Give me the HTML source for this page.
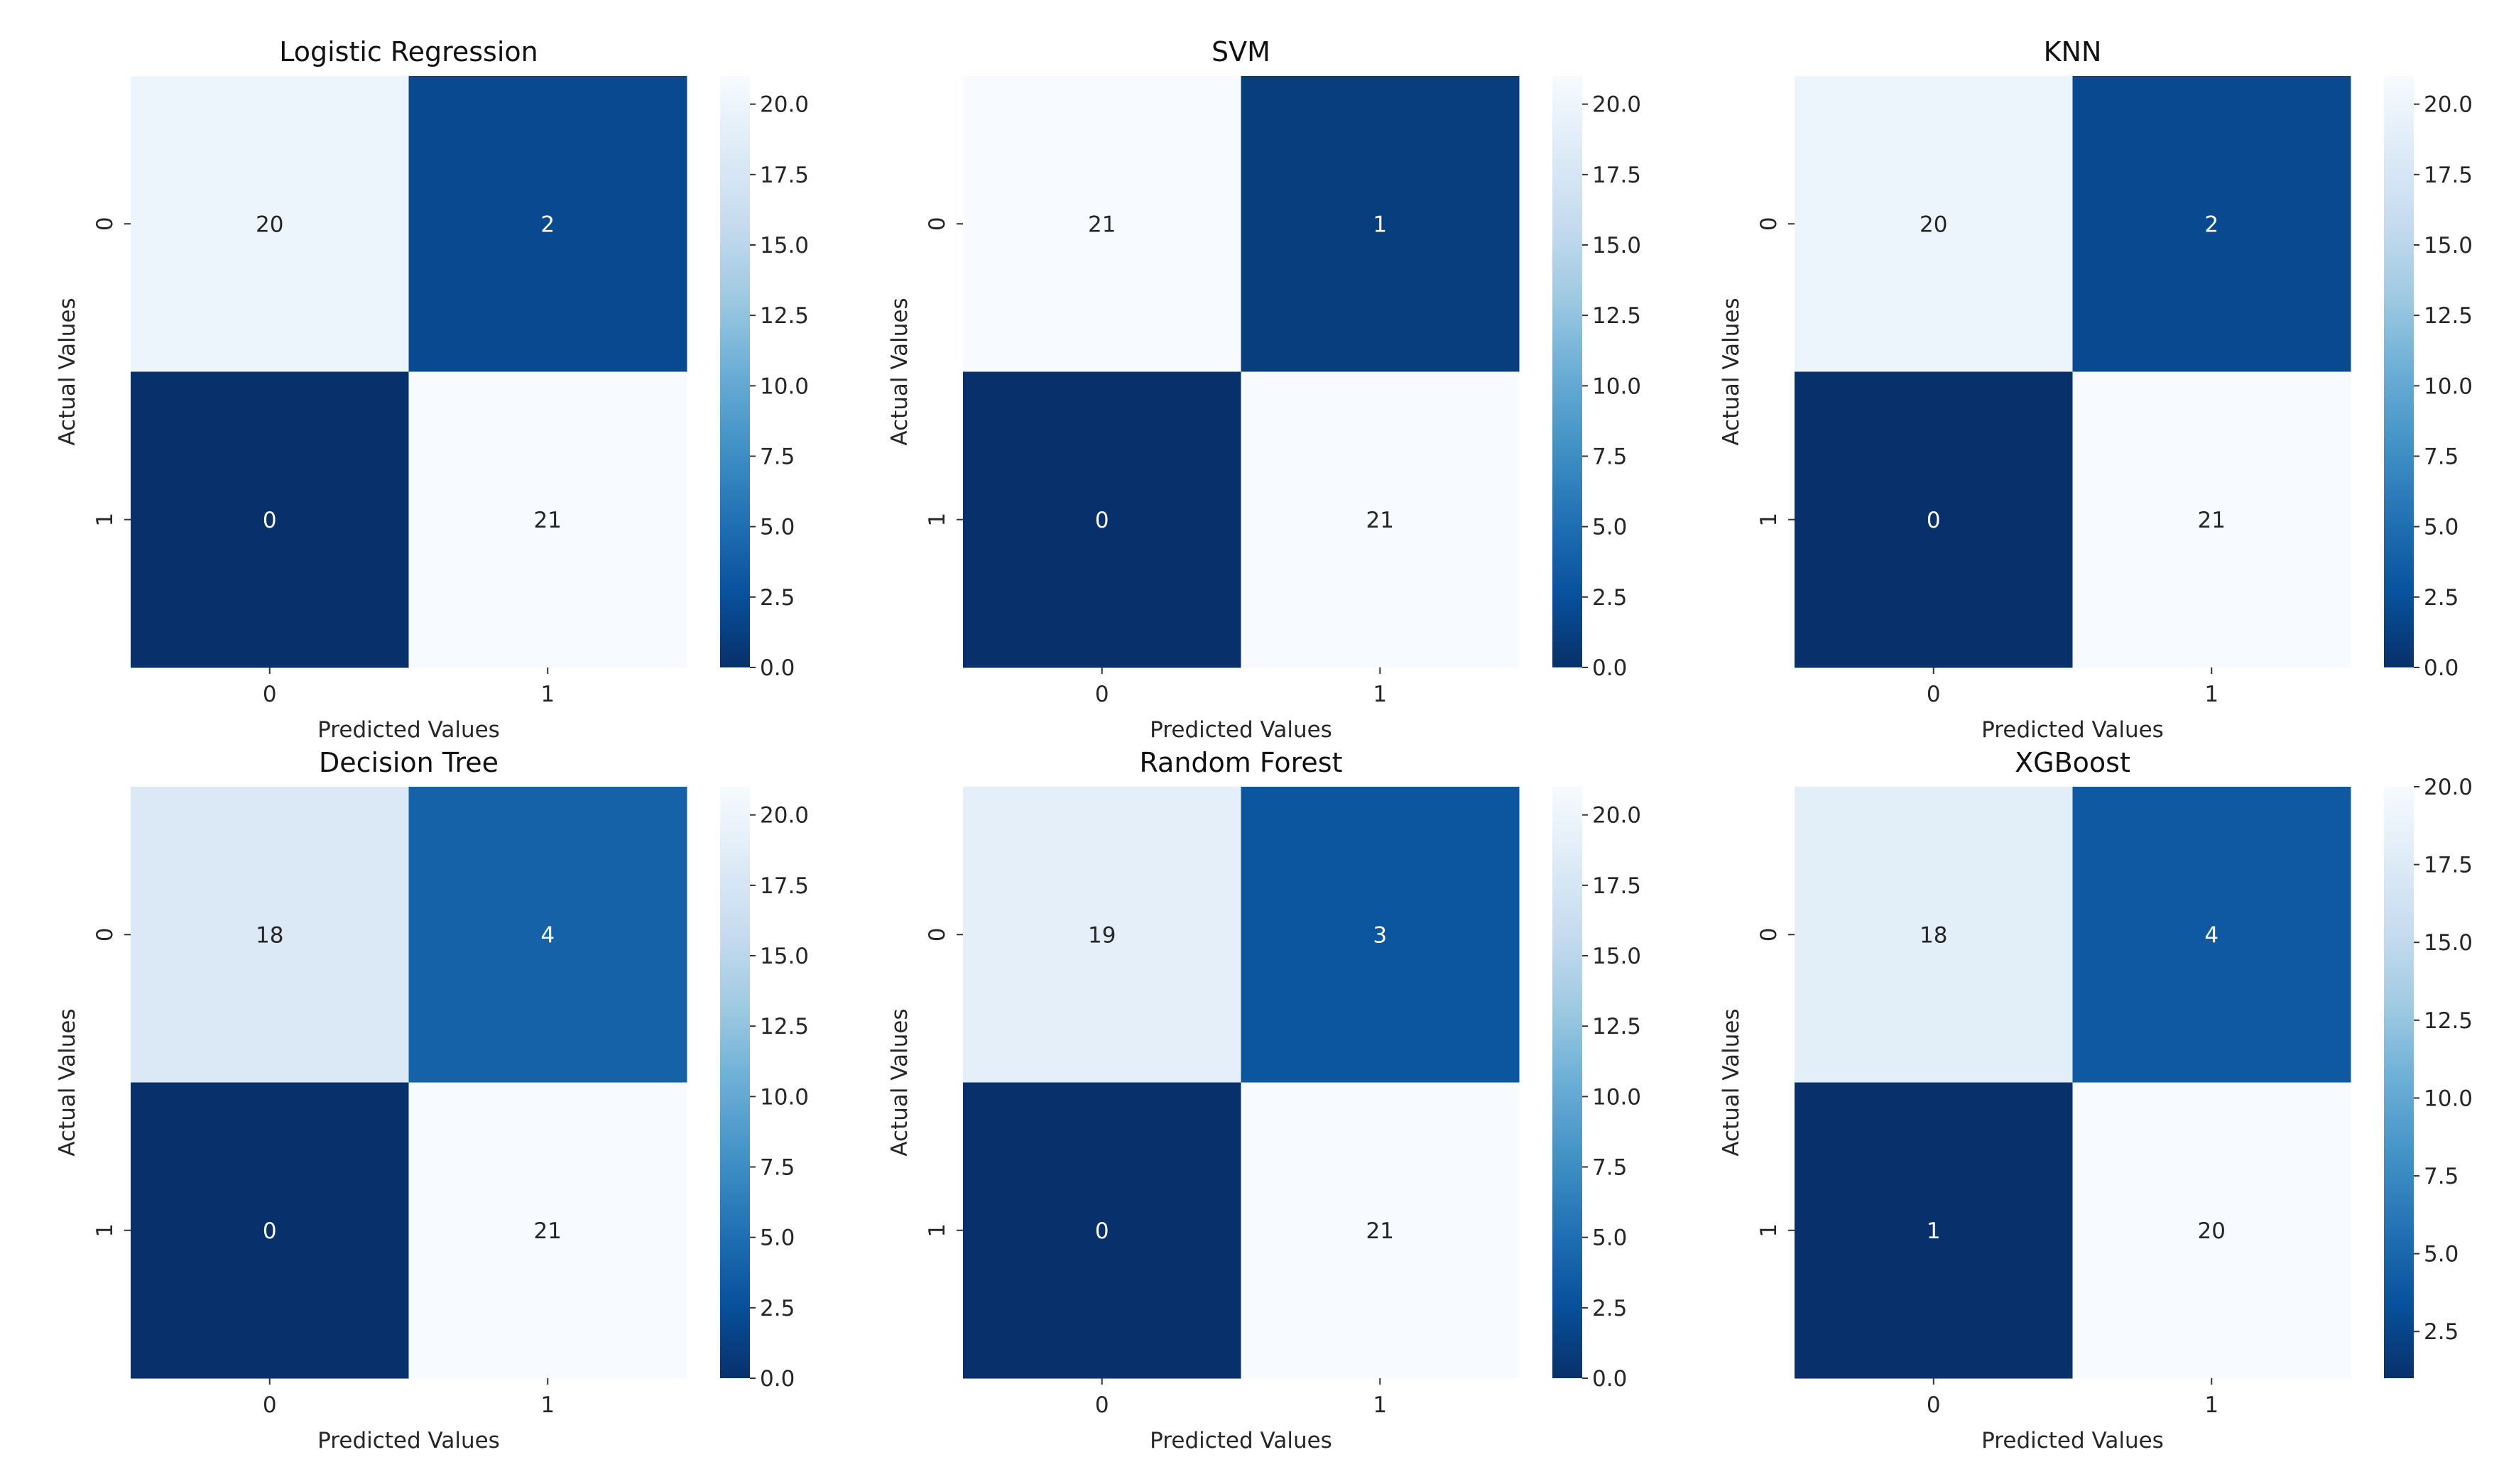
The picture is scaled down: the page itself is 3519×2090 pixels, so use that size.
<!DOCTYPE html>
<html><head><meta charset="utf-8"><style>
html,body{margin:0;padding:0;background:#fff;}
svg{display:block;font-family:"DejaVu Sans","Liberation Sans",sans-serif;}
</style></head><body>
<svg id="fig" width="3519" height="2090" viewBox="0 0 3519 2090" xmlns="http://www.w3.org/2000/svg">
<rect width="3519" height="2090" fill="#fff"/>
</svg>
<script>
const modelNames = ["Logistic Regression","SVM","KNN","Decision Tree","Random Forest","XGBoost"];
const lrValues = [[20,2],[0,21]];
const svmValues = [[21,1],[0,21]];
const knnValues = [[20,2],[0,21]];
const dtValues = [[18,4],[0,21]];
const rfValues = [[19,3],[0,21]];
const xgbValues = [[18,4],[1,20]];
const classLabels = ["0","1"];
const cbTicksA = [0,2.5,5,7.5,10,12.5,15,17.5,20];
const cbTicksB = [2.5,5,7.5,10,12.5,15,17.5,20];

const NS="http://www.w3.org/2000/svg";
const svg=document.getElementById('fig');
function mk(tag,attrs,parent){const e=document.createElementNS(NS,tag);for(const k in attrs)e.setAttribute(k,attrs[k]);(parent||svg).appendChild(e);return e;}
const stops=["#f7fbff","#deebf7","#c6dbef","#9ecae1","#6baed6","#4292c6","#2171b5","#08519c","#08306b"];
function hex(h){return[parseInt(h.substr(1,2),16),parseInt(h.substr(3,2),16),parseInt(h.substr(5,2),16)];}
function blues(t){t=Math.max(0,Math.min(1,t));const p=t*8,i=Math.min(7,Math.floor(p)),f=p-i;const a=hex(stops[i]),b=hex(stops[i+1]);return`rgb(${a.map((v,j)=>Math.round(v+(b[j]-v)*f)).join(',')})`;}
const defs=mk('defs',{});
const grad=mk('linearGradient',{id:'cbgrad',x1:0,y1:1,x2:0,y2:0},defs);
for(let i=0;i<=8;i++){mk('stop',{offset:(i/8),'stop-color':stops[8-i]},grad);}

const allValues=[lrValues,svmValues,knnValues,dtValues,rfValues,xgbValues];
const colLeft=[184,1356,2527];
const rowTop=[107,1108];
const size=783, hh=833;

allValues.forEach((vals,idx)=>{
  const col=idx%3,row=Math.floor(idx/3);
  const x0=colLeft[col],y0=rowTop[row];
  const flat=vals.flat();const vmin=Math.min(...flat),vmax=Math.max(...flat);
  const g=mk('g',{});
  
  
  const cw=size/2,ch=hh/2;
  const xs=i=>x0+i*cw, ys=j=>y0+j*ch;
  vals.forEach((r,ri)=>r.forEach((v,ci)=>{
    const t=(vmax-v)/(vmax-vmin);
    const rc=mk('rect',{x:xs(ci),y:ys(ri),width:cw+0.5,height:ch+0.5,fill:blues(t)},g);
    
    
    const tx=mk('text',{x:xs(ci)+cw/2,y:ys(ri)+ch/2+11,'text-anchor':'middle','font-size':31,fill:t>0.5?'#ffffff':'#262626'},g);
    tx.textContent=v;
    
    
  }));
  // title
  const tt=mk('text',{x:x0+size/2,y:y0-21,'text-anchor':'middle','font-size':38,fill:'#111'},g);
  tt.textContent=modelNames[idx];
  
  
  // x ticks
  classLabels.forEach((l,i)=>{
    const cx=xs(i)+cw/2;
    mk('line',{x1:cx,y1:y0+hh,x2:cx,y2:y0+hh+9,stroke:'#333','stroke-width':2},g);
    const t=mk('text',{x:cx,y:y0+hh+48,'text-anchor':'middle','font-size':31,fill:'#262626'},g);
    t.textContent=l;
    
    
    const cy=ys(i)+ch/2;
    mk('line',{x1:x0-9,y1:cy,x2:x0,y2:cy,stroke:'#333','stroke-width':2},g);
    const ty=mk('text',{x:0,y:0,'text-anchor':'middle','font-size':31,fill:'#262626',transform:`translate(${x0-26},${cy}) rotate(-90)`},g);
    ty.textContent=l;
    
    
  });
  const xl=mk('text',{x:x0+size/2,y:y0+hh+98,'text-anchor':'middle','font-size':31,fill:'#262626'},g);
  xl.textContent='Predicted Values';
  
  
  const yl=mk('text',{x:0,y:0,'text-anchor':'middle','font-size':31,fill:'#262626',transform:`translate(${x0-79},${y0+hh/2}) rotate(-90)`},g);
  yl.textContent='Actual Values';
  
  
  // colorbar
  const cbx=x0+size+47,cbw=42;
  const cb=mk('rect',{x:cbx,y:y0,width:cbw,height:hh,fill:'url(#cbgrad)'},g);
  
  
  const ticks=vmin===0?cbTicksA:cbTicksB;
  ticks.forEach(tv=>{
    const ty=y0+hh-(tv-vmin)/(vmax-vmin)*hh;
    mk('line',{x1:cbx+cbw,y1:ty,x2:cbx+cbw+8,y2:ty,stroke:'#333','stroke-width':2},g);
    const t=mk('text',{x:cbx+cbw+14,y:ty+11,'font-size':31,fill:'#262626'},g);
    t.textContent=tv.toFixed(1);
    
    
  });
});
</script>
</body></html>
